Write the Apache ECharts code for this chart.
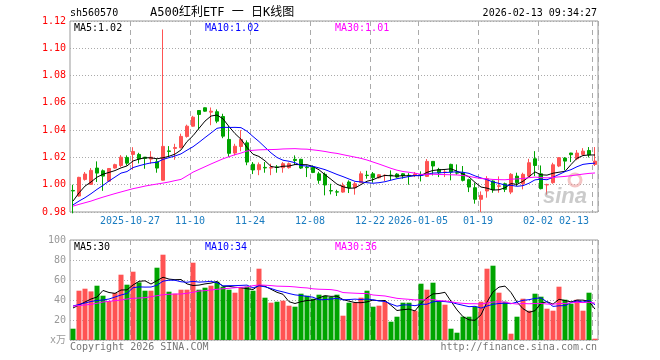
<!DOCTYPE html>
<html><head><meta charset="utf-8">
<script src="https://cdn.jsdelivr.net/npm/echarts@6/dist/echarts.min.js"></script>
<style>html,body{margin:0;padding:0;background:#fff}#c{width:660px;height:360px}</style>
</head><body><div id="c"></div>
<script>
const dates = ['2025-10-13','2025-10-14','2025-10-15','2025-10-16','2025-10-17','2025-10-20','2025-10-21','2025-10-22','2025-10-23','2025-10-24',
'2025-10-27','2025-10-28','2025-10-29','2025-10-30','2025-10-31','2025-11-03','2025-11-04','2025-11-05','2025-11-06','2025-11-07',
'2025-11-10','2025-11-11','2025-11-12','2025-11-13','2025-11-14','2025-11-17','2025-11-18','2025-11-19','2025-11-20','2025-11-21',
'2025-11-24','2025-11-25','2025-11-26','2025-11-27','2025-11-28','2025-12-01','2025-12-02','2025-12-03','2025-12-04','2025-12-05',
'2025-12-08','2025-12-09','2025-12-10','2025-12-11','2025-12-12','2025-12-15','2025-12-16','2025-12-17','2025-12-18','2025-12-19',
'2025-12-22','2025-12-23','2025-12-24','2025-12-25','2025-12-26','2025-12-29','2025-12-30','2025-12-31','2026-01-05','2026-01-06',
'2026-01-07','2026-01-08','2026-01-09','2026-01-12','2026-01-13','2026-01-14','2026-01-15','2026-01-16','2026-01-19','2026-01-20',
'2026-01-21','2026-01-22','2026-01-23','2026-01-26','2026-01-27','2026-01-28','2026-01-29','2026-01-30','2026-02-02','2026-02-03',
'2026-02-04','2026-02-05','2026-02-06','2026-02-09','2026-02-10','2026-02-11','2026-02-12','2026-02-13'];

const opens = [0.9958,0.9917,1.0039,1.0002,1.0122,1.0102,1.0026,1.0122,1.0141,1.0200,
1.0222,1.0222,1.0202,1.0188,1.0168,1.0033,1.0248,1.0266,1.0271,1.0354,
1.0429,1.0544,1.0564,1.0532,1.0535,1.0500,1.0332,1.0232,1.0280,1.0307,
1.0150,1.0110,1.0127,1.0122,1.0130,1.0125,1.0125,1.0186,1.0186,1.0128,
1.0126,1.0080,1.0076,0.9957,0.9948,0.9946,1.0020,0.9978,1.0015,1.0070,
1.0080,1.0051,1.0067,1.0070,1.0078,1.0080,1.0069,1.0068,1.0074,1.0061,
1.0171,1.0112,1.0090,1.0149,1.0088,1.0088,1.0037,0.9978,0.9893,0.9954,
1.0027,0.9988,1.0007,0.9946,1.0063,1.0007,1.0063,1.0190,1.0080,0.9998,
1.0015,1.0137,1.0195,1.0232,1.0190,1.0222,1.0251,1.0149];

const closes = [0.9954,1.0054,1.0078,1.0105,1.0085,1.0063,1.0119,1.0147,1.0202,1.0158,
1.0244,1.0189,1.0193,1.0202,1.0122,1.0281,1.0244,1.0273,1.0354,1.0429,
1.0495,1.0515,1.0539,1.0539,1.0466,1.0356,1.0230,1.0282,1.0332,1.0166,
1.0108,1.0147,1.0123,1.0126,1.0127,1.0154,1.0154,1.0178,1.0122,1.0125,
1.0090,1.0032,0.9998,0.9954,0.9946,0.9995,0.9978,1.0007,1.0080,1.0067,
1.0051,1.0073,1.0069,1.0067,1.0056,1.0066,1.0066,1.0078,1.0071,1.0171,
1.0137,1.0088,1.0093,1.0093,1.0085,1.0032,0.9983,0.9893,0.9922,1.0044,
0.9963,0.9992,0.9966,1.0076,1.0015,1.0076,1.0161,1.0141,0.9971,1.0002,
1.0146,1.0198,1.0173,1.0220,1.0232,1.0246,1.0219,1.0173];

const lows = [0.9790,0.9912,1.0030,0.9998,1.0020,0.9955,1.0022,1.0118,1.0129,1.0141,
1.0110,1.0156,1.0117,1.0154,1.0088,1.0030,1.0202,1.0183,1.0266,1.0345,
1.0425,1.0405,1.0535,1.0436,1.0451,1.0341,1.0204,1.0215,1.0245,1.0143,
1.0078,1.0070,1.0088,1.0070,1.0088,1.0088,1.0118,1.0145,1.0115,1.0056,
1.0085,1.0007,0.9922,0.9929,0.9917,0.9941,0.9939,0.9927,1.0012,1.0044,
1.0015,1.0046,1.0027,1.0032,1.0050,1.0044,1.0000,1.0056,1.0024,1.0056,
1.0068,1.0056,1.0056,1.0032,1.0073,1.0024,0.9946,0.9861,0.9800,0.9905,
0.9941,0.9941,0.9946,0.9931,0.9990,0.9966,1.0056,1.0063,0.9966,0.9927,
1.0007,1.0129,1.0105,1.0166,1.0180,1.0214,1.0200,1.0137];

const highs = [1.0000,1.0058,1.0093,1.0122,1.0171,1.0112,1.0122,1.0154,1.0217,1.0215,
1.0275,1.0234,1.0203,1.0246,1.0190,1.1138,1.0283,1.0300,1.0374,1.0440,
1.0505,1.0546,1.0566,1.0566,1.0552,1.0520,1.0430,1.0300,1.0400,1.0325,
1.0166,1.0163,1.0166,1.0154,1.0144,1.0166,1.0163,1.0215,1.0190,1.0141,
1.0141,1.0095,1.0090,1.0007,0.9963,1.0015,1.0032,1.0020,1.0098,1.0102,
1.0093,1.0078,1.0076,1.0105,1.0085,1.0085,1.0085,1.0093,1.0098,1.0188,
1.0173,1.0124,1.0110,1.0154,1.0149,1.0137,1.0044,1.0015,0.9951,1.0063,
1.0032,1.0061,1.0015,1.0085,1.0088,1.0088,1.0190,1.0246,1.0141,1.0007,
1.0161,1.0202,1.0202,1.0234,1.0254,1.0268,1.0276,1.0276];

const volumes = [11.3,49.3,51.3,48.6,54.3,44.3,39.0,47.0,65.3,55.3,
68.3,57.6,49.3,49.3,72.3,85.3,48.3,46.3,50.3,50.3,
77.3,50.3,52.3,54.3,58.3,53.3,50.3,47.3,52.3,53.3,
49.3,71.3,42.3,37.3,38.3,39.3,34.3,33.3,46.3,44.3,
41.3,45.3,44.3,43.0,45.3,24.3,37.3,37.3,42.3,49.3,
33.3,34.3,38.3,18.3,23.3,37.3,37.3,29.3,56.3,50.3,
57.3,39.3,35.3,11.3,7.3,23.3,23.3,33.3,38.3,71.3,
74.3,47.3,38.3,6.3,23.3,41.3,29.3,46.3,43.3,31.3,
29.3,53.3,40.3,36.3,40.3,29.3,47.3,1.3];

// moving-average values for days whose window starts before the chart
const priceMa5Early = [0.9880,0.9940,0.9990,1.0020];
const priceMa10Early = [0.9852,0.9880,0.9905,0.9934,0.9966,0.9995,1.0027,1.0056,1.0085];
const priceMa30Early = [0.9843,0.9856,0.9868,0.9880,0.9895,0.9909,0.9922,0.9935,0.9947,0.9959,
0.9971,0.9980,0.9990,0.9998,1.0005,1.0012,1.0020,1.0030,1.0039,1.0065,
1.0092,1.0112,1.0132,1.0152,1.0171,1.0190,1.0205,1.0220,1.0232];
const volMa5Early = [32,35,38,41];
const volMa10Early = [34,35.5,37,38.5,39.5,40,41,43,45];
const volMa30Early = [33.8,34.5,35,35.7,36.7,38,38.7,39.3,40,41,
41.7,42,42.3,43.3,44.3,45.3,45.7,46,46,46.7,
47.7,49,49.3,50,50.7,51.3,51.7,52.3,52.7];

const tickDates = ['2025-10-27','2025-11-10','2025-11-24','2025-12-08','2025-12-22','2026-01-05','2026-01-19','2026-02-02','2026-02-13'];
const tickTexts = ['2025-10-27','11-10','11-24','12-08','12-22','2026-01-05','01-19','02-02','02-13'];
const priceTicks = [0.98,1.00,1.02,1.04,1.06,1.08,1.10,1.12];
const volTicks = [0,20,40,60,80,100];
const volUnit = 'x万';

const header = {code:'sh560570', title:'A500红利ETF 一 日K线图', time:'2026-02-13 09:34:27'};
const priceLegend = ['MA5:1.02','MA10:1.02','MA30:1.01'];
const volLegend = ['MA5:30','MA10:34','MA30:36'];

function ma(vals, n, early){
  return vals.map((v,i)=>{
    if(i < n-1) return early[i];
    let s=0; for(let j=i-n+1;j<=i;j++) s+=vals[j];
    return +(s/n).toFixed(5);
  });
}

const RED='#ff5353', GREEN='#00a400';
const MONO = "'DejaVu Sans Mono','Noto Sans CJK SC',monospace";
const tickIdx = tickDates.map(d=>dates.indexOf(d));
const isTick = (i)=> tickIdx.indexOf(i) >= 0;

const kData = dates.map((d,i)=>[opens[i],closes[i],lows[i],highs[i]]);
const vData = volumes.map((v,i)=>({value:v, itemStyle:{color: closes[i]>=opens[i]?RED:GREEN}}));

const L=70, W=528;
const chart = echarts.init(document.getElementById('c'));
const gridLine = {show:true, lineStyle:{color:'#aaa', type:[1,2], width:1}};
const vLine = {show:true, interval:(i)=>isTick(i), lineStyle:{color:'#aaa', type:[5,4], width:1}};
function lineSeries(name, data, color, xi, yi){
  return {name, type:'line', data, xAxisIndex:xi, yAxisIndex:yi, showSymbol:false, symbol:'none', silent:true,
    lineStyle:{color, width:1}, itemStyle:{color}, z:5};
}
function txt(text, x, y, color, align, font){
  return {type:'text', silent:true, z:100, style:{text, x, y, fill:color, font: font || ('10px '+MONO), textAlign:align||'left', align:align||'left', textVerticalAlign:'middle', verticalAlign:'middle'}};
}
const option = {
  animation:false,
  backgroundColor:'#fff',
  grid:[
    {left:L, width:W, top:21, height:191, show:true, borderColor:'#999', borderWidth:1, backgroundColor:'transparent'},
    {left:L, width:W, top:240, height:100, show:true, borderColor:'#999', borderWidth:1, backgroundColor:'transparent'}
  ],
  xAxis:[
    {type:'category', data:dates, gridIndex:0, boundaryGap:true,
     axisLine:{show:false}, axisTick:{show:false}, splitLine:vLine,
     axisLabel:{interval:(i)=>isTick(i), formatter:(v)=>{const k=tickDates.indexOf(v); return k>=0?tickTexts[k]:'';},
       color:'#1a7cc0', fontFamily:MONO, fontSize:10, margin:4, padding:[0,6,0,0], alignMaxLabel:'right'}},
    {type:'category', data:dates, gridIndex:1, boundaryGap:true,
     axisLine:{show:false}, axisTick:{show:false}, splitLine:vLine, axisLabel:{show:false}}
  ],
  yAxis:[
    {type:'value', gridIndex:0, min:priceTicks[0], max:priceTicks[priceTicks.length-1], interval:0.02,
     axisLine:{show:false}, axisTick:{show:false}, splitLine:gridLine,
     axisLabel:{color:'#f00', fontFamily:MONO, fontSize:10, margin:4, formatter:(v)=>v.toFixed(2)}},
    {type:'value', gridIndex:1, min:volTicks[0], max:volTicks[volTicks.length-1], interval:20,
     axisLine:{show:false}, axisTick:{show:false}, splitLine:gridLine,
     axisLabel:{color:'#999', fontFamily:MONO, fontSize:10, margin:4, formatter:(v)=> v===0?volUnit:String(v)}}
  ],
  series:[
    {type:'candlestick', data:kData, xAxisIndex:0, yAxisIndex:0, barWidth:4, silent:true, clip:true,
     itemStyle:{color:RED, color0:GREEN, borderColor:RED, borderColor0:GREEN, borderWidth:1}, z:3},
    lineSeries('MA5', ma(closes,5,priceMa5Early), '#000', 0, 0),
    lineSeries('MA10', ma(closes,10,priceMa10Early), '#0000ff', 0, 0),
    lineSeries('MA30', ma(closes,30,priceMa30Early), '#ff00ff', 0, 0),
    {type:'bar', data:vData, xAxisIndex:1, yAxisIndex:1, barWidth:5, silent:true, z:3},
    lineSeries('vMA5', ma(volumes,5,volMa5Early), '#000', 1, 1),
    lineSeries('vMA10', ma(volumes,10,volMa10Early), '#0000ff', 1, 1),
    lineSeries('vMA30', ma(volumes,30,volMa30Early), '#ff00ff', 1, 1)
  ],
  graphic:[
    txt(header.code, 70, 13, '#000', 'left', '10px '+MONO),
    txt(header.title, 150, 13, '#000', 'left', "12px 'DejaVu Sans Mono','Noto Sans CJK SC',sans-serif"),
    txt(header.time, 597, 13, '#000', 'right', '10px '+MONO),
    txt(priceLegend[0], 74, 28, '#000'),
    txt(priceLegend[1], 205, 28, '#0000ff'),
    txt(priceLegend[2], 335, 28, '#ff00ff'),
    txt(volLegend[0], 74, 247, '#000'),
    txt(volLegend[1], 205, 247, '#0000ff'),
    txt(volLegend[2], 335, 247, '#ff00ff'),
    {type:'circle', silent:true, z:1, shape:{cx:575, cy:180, r:6}, style:{fill:'none', stroke:'rgba(235,150,150,0.55)', lineWidth:3}},
    txt('sina', 543, 197, 'rgba(160,160,160,0.55)', 'left', "italic bold 22px 'Liberation Sans',sans-serif"),
    txt('Copyright 2026 SINA.COM', 70, 347, '#777'),
    txt('http://finance.sina.com.cn', 597, 347, '#777', 'right')
  ]
};
chart.setOption(option);
</script>
</body></html>
